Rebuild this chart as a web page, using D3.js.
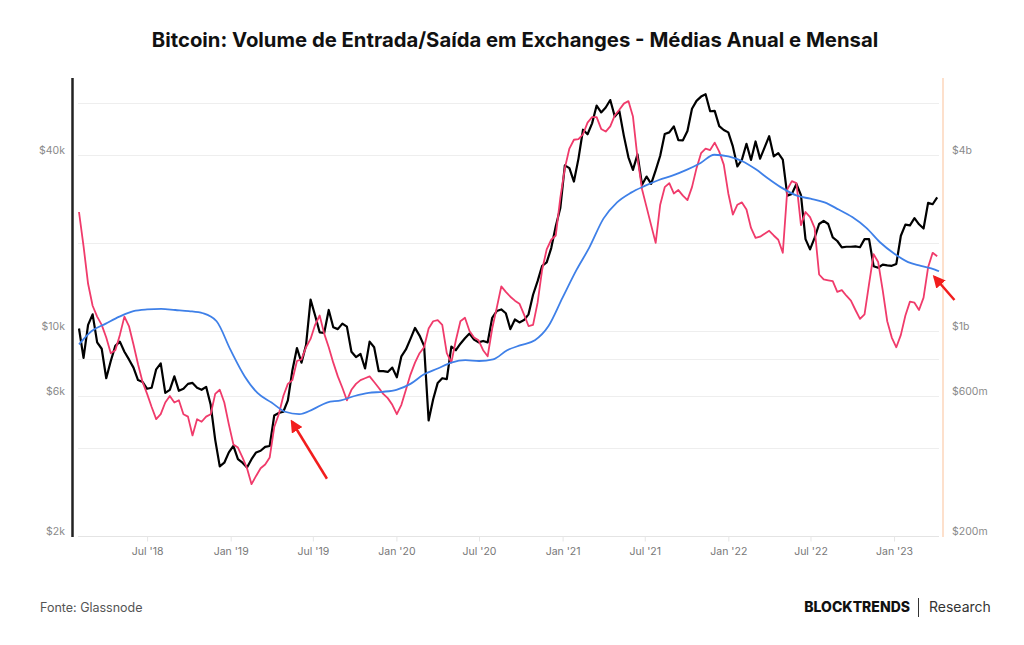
<!DOCTYPE html>
<html>
<head>
<meta charset="utf-8">
<script src="https://cdnjs.cloudflare.com/ajax/libs/d3/7.8.5/d3.min.js"></script>
<style>
  body { margin: 0; background: #fff; }
  svg { display: block; font-family: Inter, "Noto Sans", sans-serif; }
</style>
</head>
<body>
<div id="chart-area"></div>
<script>
// Bitcoin price vs exchange in/out volume, 30d and 365d averages

var startDate = new Date(2018, 1, 1);
var endDate = new Date(2023, 3, 10);
var sampleStep = 10; // days between samples of price / monthly mean

// BTC price (USD), one value every 10 days from 1 Feb 2018
var priceValues = [
    10200, 8100, 10500, 11400, 9150, 8700, 6900, 7900, 8900, 9200,
    8500, 8000, 7500, 6800, 6700, 6350, 6400, 7400, 7750, 6150,
    6300, 7000, 6250, 6350, 6600, 6650, 6400, 6300, 6450, 5600,
    4250, 3450, 3550, 3850, 4050, 3650, 3550, 3420, 3650, 3850,
    3900, 4020, 4050, 5150, 5250, 5300, 5800, 7350, 8750, 7800,
    8950, 12800, 11300, 9900, 9850, 11800, 10300, 10150, 10600, 10350,
    8500, 8150, 8350, 7450, 9200, 8800, 7300, 7300, 7250, 7500,
    6950, 8200, 8650, 9400, 10250, 9650, 8900, 4950, 5850, 6650,
    6900, 6850, 8850, 8600, 9050, 9450, 9800, 9350, 9150, 9250,
    9150, 11100, 11700, 11850, 11500, 10150, 10950, 10700, 10900, 11400,
    13300, 14800, 16700, 17150, 19200, 22800, 26300, 36800, 36000, 32400,
    38800, 48700, 47000, 51200, 58900, 55800, 58000, 61500, 54000, 56400,
    46400, 39200, 35500, 40100, 31600, 33700, 31800, 35400, 39700, 47100,
    47700, 50000, 44900, 44800, 48200, 57400, 61100, 63200, 64400, 56300,
    56500, 50100, 48600, 47700, 42700, 36500, 38500, 43600, 38400, 44400,
    38800, 42400, 46300, 39500, 40500, 38500, 29000, 29400, 31800, 29100,
    20600, 19000, 20800, 23200, 23800, 23200, 20900, 20300, 19300, 19400,
    19400, 19450, 19330, 20600, 20600, 16650, 16450, 16850, 16750, 16700,
    16950, 21150, 23100, 22950, 24300, 23150, 22400, 27400, 27100, 28600
];

// Exchange in/out volume, 30-day mean (USD billions), same dates
var monthlyVolume = [
    2.55, 1.95, 1.45, 1.22, 1.12, 1.05, 0.95, 0.84, 0.86, 0.97,
    1.12, 1.04, 0.90, 0.77, 0.67, 0.61, 0.55, 0.50, 0.52, 0.57,
    0.60, 0.57, 0.58, 0.52, 0.51, 0.44, 0.50, 0.49, 0.51, 0.52,
    0.61, 0.63, 0.57, 0.48, 0.41, 0.40, 0.37, 0.34, 0.30, 0.32,
    0.34, 0.35, 0.37, 0.47, 0.52, 0.60, 0.66, 0.68, 0.79, 0.80,
    0.88, 0.94, 1.05, 1.13, 0.98, 0.88, 0.78, 0.70, 0.64, 0.58,
    0.63, 0.66, 0.68, 0.69, 0.70, 0.67, 0.64, 0.61, 0.59, 0.56,
    0.52, 0.56, 0.63, 0.71, 0.78, 0.84, 0.88, 1.02, 1.08, 1.09,
    1.05, 0.84, 0.78, 0.93, 1.08, 1.11, 1.00, 0.95, 0.93, 0.86,
    0.82, 1.02, 1.20, 1.42, 1.36, 1.31, 1.27, 1.24, 1.14, 1.04,
    1.05, 1.25, 1.62, 1.90, 2.05, 2.12, 2.85, 3.60, 4.20, 4.50,
    4.52, 4.70, 5.15, 5.38, 5.38, 4.90, 4.80, 5.00, 5.45, 5.70,
    5.98, 6.10, 5.40, 3.90, 3.05, 2.65, 2.30, 2.00, 2.70, 3.10,
    3.20, 2.95, 3.03, 2.90, 2.80, 3.10, 3.60, 4.05, 4.20, 4.15,
    4.40, 4.10, 3.70, 2.95, 2.50, 2.70, 2.75, 2.60, 2.25, 2.08,
    2.10, 2.15, 2.20, 2.12, 2.05, 1.85, 3.05, 3.25, 3.20, 2.30,
    2.55, 2.45, 2.25, 1.56, 1.50, 1.49, 1.48, 1.36, 1.38, 1.32,
    1.27, 1.18, 1.10, 1.14, 1.45, 1.83, 1.72, 1.38, 1.08, 0.95,
    0.88, 0.97, 1.13, 1.26, 1.25, 1.18, 1.30, 1.65, 1.85, 1.80
];

// Exchange in/out volume, 365-day mean (USD billions), first of each month Feb 2018 - Apr 2023, then 10 Apr 2023
var annualVolume = [
    0.90, 1.00, 1.06, 1.12, 1.17, 1.185, 1.19, 1.18, 1.17, 1.15, 1.08,
    0.86, 0.70, 0.615, 0.57, 0.53, 0.52, 0.54, 0.57, 0.58, 0.60, 0.615, 0.62,
    0.63, 0.66, 0.71, 0.745, 0.78, 0.795, 0.79, 0.80, 0.86, 0.895, 0.93, 1.04,
    1.30, 1.62, 1.93, 2.42, 2.75, 2.97, 3.13, 3.28, 3.40, 3.55, 3.75, 4.00,
    3.95, 3.80, 3.58, 3.30, 3.07, 2.90, 2.83, 2.75, 2.60, 2.45, 2.25, 2.01,
    1.84, 1.72, 1.67, 1.62, 1.60
];

var gridValues = [2000, 4000, 6000, 8000, 10000, 20000, 40000, 60000];
var priceTicks = [2000, 6000, 10000, 40000];
var priceTickLabels = ["$2k", "$6k", "$10k", "$40k"];
var volumeTicks = [0.2, 0.6, 1, 4];
var volumeTickLabels = ["$200m", "$600m", "$1b", "$4b"];
var dateTicks = [
    new Date(2018, 6, 1), new Date(2019, 0, 1), new Date(2019, 6, 1), new Date(2020, 0, 1),
    new Date(2020, 6, 1), new Date(2021, 0, 1), new Date(2021, 6, 1), new Date(2022, 0, 1),
    new Date(2022, 6, 1), new Date(2023, 0, 1)
];
var dateTickLabels = ["Jul '18", "Jan '19", "Jul '19", "Jan '20", "Jul '20",
    "Jan '21", "Jul '21", "Jan '22", "Jul '22", "Jan '23"];

// arrows: tip at (date, volume), tail offset in px
var arrows = [
    { date: new Date(2019, 4, 16), value: 0.49, dx: 35, dy: 57 },
    { date: new Date(2023, 2, 31), value: 1.53, dx: 20, dy: 23 }
];

var titleText = "Bitcoin: Volume de Entrada/Saída em Exchanges - Médias Anual e Mensal";

// dates for sampled series
var sampleDates = priceValues.map(function(d, i){
    return d3.timeDay.offset(startDate, i * sampleStep);
});
var annualDates = d3.timeMonth.range(startDate, new Date(2023, 4, 1));
annualDates.push(endDate);

var width = 1024, height = 645;
var plotLeft = 79, plotRight = 939, plotTop = 80, plotBottom = 535.7;

var svg = d3.select("#chart-area")
    .append("svg")
        .attr("width", width)
        .attr("height", height);

// Scales
var x = d3.scaleTime()
    .domain([startDate, endDate])
    .range([plotLeft, plotRight]);
var yPrice = d3.scaleLog()
    .domain([2000, 72000])
    .range([plotBottom, plotTop]);
var yVolume = d3.scaleLog()
    .domain([0.2, 7.2])
    .range([plotBottom, plotTop]);

// Title
svg.append("text")
    .attr("x", 515)
    .attr("y", 47)
    .attr("text-anchor", "middle")
    .attr("font-size", "20.3px")
    .attr("font-weight", 700)
    .attr("fill", "#111")
    .text(titleText);

// Gridlines
svg.append("g")
    .selectAll("line")
    .data(gridValues)
    .enter().append("line")
        .attr("x1", 78)
        .attr("x2", 939)
        .attr("y1", function(d){ return Math.round(yPrice(d)) + 0.5; })
        .attr("y2", function(d){ return Math.round(yPrice(d)) + 0.5; })
        .attr("stroke", function(d){ return d == 2000 ? "#e4e4e4" : "#eeeeee"; })
        .attr("stroke-width", 1.2);

// X Axis
var xAxisCall = d3.axisBottom(x)
    .tickValues(dateTicks)
    .tickFormat(function(d, i){ return dateTickLabels[i]; })
    .tickSize(5)
    .tickPadding(6);
var xAxis = svg.append("g")
    .attr("transform", "translate(0," + (Math.round(plotBottom) + 0.5) + ")")
    .call(xAxisCall);
xAxis.select(".domain").remove();
xAxis.selectAll("line").attr("stroke", "#e6e6e6");
xAxis.selectAll("text")
    .attr("fill", "#777")
    .attr("font-size", "10.5px")
    .attr("font-family", "Inter, sans-serif");

// Left axis labels
var yLeftCall = d3.axisLeft(yPrice)
    .tickValues(priceTicks)
    .tickFormat(function(d, i){ return priceTickLabels[i]; })
    .tickSize(0)
    .tickPadding(0);
var yLeft = svg.append("g")
    .attr("transform", "translate(65,0)")
    .call(yLeftCall);
yLeft.select(".domain").remove();
yLeft.selectAll("text")
    .attr("dy", "-1.6px")
    .attr("fill", "#8a8a8a")
    .attr("font-size", "10.5px")
    .attr("font-family", "Inter, sans-serif");

// Right axis labels
var yRightCall = d3.axisRight(yVolume)
    .tickValues(volumeTicks)
    .tickFormat(function(d, i){ return volumeTickLabels[i]; })
    .tickSize(0)
    .tickPadding(0);
var yRight = svg.append("g")
    .attr("transform", "translate(952,0)")
    .call(yRightCall);
yRight.select(".domain").remove();
yRight.selectAll("text")
    .attr("dy", "-1.6px")
    .attr("fill", "#8a8a8a")
    .attr("font-size", "10.5px")
    .attr("font-family", "Inter, sans-serif");

// Axis bars
svg.append("line")
    .attr("x1", 72.5).attr("x2", 72.5)
    .attr("y1", 78).attr("y2", 537)
    .attr("stroke", "#222")
    .attr("stroke-width", 2.5);
svg.append("line")
    .attr("x1", 943).attr("x2", 943)
    .attr("y1", 78).attr("y2", 537)
    .attr("stroke", "#fde0cc")
    .attr("stroke-width", 2);

// Lines
var priceLine = d3.line()
    .x(function(d, i){ return x(sampleDates[i]); })
    .y(function(d){ return yPrice(d); });
var monthlyLine = d3.line()
    .x(function(d, i){ return x(sampleDates[i]); })
    .y(function(d){ return yVolume(d); });
var annualLine = d3.line()
    .curve(d3.curveMonotoneX)
    .x(function(d, i){ return x(annualDates[i]); })
    .y(function(d){ return yVolume(d); });

svg.append("path")
    .datum(priceValues)
    .attr("fill", "none")
    .attr("stroke", "#000")
    .attr("stroke-width", 2.2)
    .attr("stroke-linejoin", "round")
    .attr("d", priceLine);

svg.append("path")
    .datum(monthlyVolume)
    .attr("fill", "none")
    .attr("stroke", "#f03b6b")
    .attr("stroke-width", 1.8)
    .attr("stroke-linejoin", "round")
    .attr("d", monthlyLine);

svg.append("path")
    .datum(annualVolume)
    .attr("fill", "none")
    .attr("stroke", "#3f80e8")
    .attr("stroke-width", 1.8)
    .attr("d", annualLine);

// Arrows
svg.append("defs").append("marker")
    .attr("id", "arrowhead")
    .attr("viewBox", "0 0 10 10")
    .attr("refX", 8)
    .attr("refY", 5)
    .attr("markerWidth", 5)
    .attr("markerHeight", 5)
    .attr("orient", "auto")
    .append("path")
        .attr("d", "M0,0 L10,5 L0,10 z")
        .attr("fill", "#f21d1d");

svg.selectAll(".arrow")
    .data(arrows)
    .enter().append("line")
        .attr("class", "arrow")
        .attr("x1", function(d){ return x(d.date) + d.dx; })
        .attr("y1", function(d){ return yVolume(d.value) + d.dy; })
        .attr("x2", function(d){ return x(d.date); })
        .attr("y2", function(d){ return yVolume(d.value); })
        .attr("stroke", "#f21d1d")
        .attr("stroke-width", 2.5)
        .attr("marker-end", "url(#arrowhead)");

// Footer
svg.append("text")
    .attr("x", 40)
    .attr("y", 612)
    .attr("font-size", "12.5px")
    .attr("fill", "#555")
    .text("Fonte: Glassnode");

svg.append("text")
    .attr("x", 910)
    .attr("y", 612)
    .attr("text-anchor", "end")
    .attr("font-size", "14px")
    .attr("font-weight", 800)
    .attr("fill", "#111")
    .text("BLOCKTRENDS");
svg.append("line")
    .attr("x1", 918.5).attr("x2", 918.5)
    .attr("y1", 598).attr("y2", 617)
    .attr("stroke", "#333")
    .attr("stroke-width", 1);
svg.append("text")
    .attr("x", 929)
    .attr("y", 612)
    .attr("font-size", "14px")
    .attr("fill", "#333")
    .text("Research");
</script>
</body>
</html>
